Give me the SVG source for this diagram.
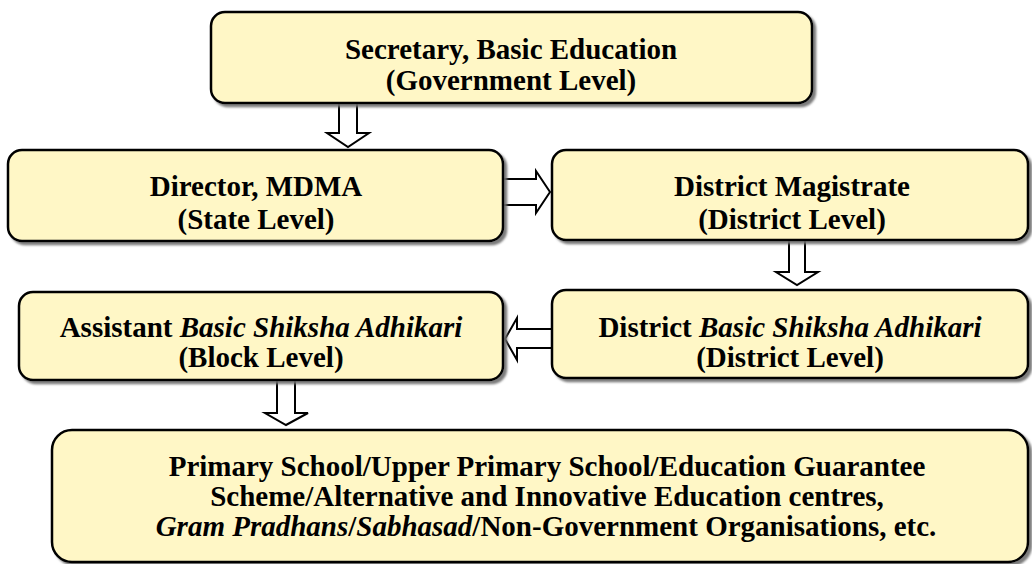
<svg xmlns="http://www.w3.org/2000/svg" width="1032" height="564" viewBox="0 0 1032 564">
<defs>
<filter id="sh" x="-5%" y="-5%" width="110%" height="120%">
<feDropShadow dx="3" dy="3" stdDeviation="1.2" flood-color="#6e6e6e" flood-opacity="0.9"/>
</filter>
<style>
.box{fill:#FFF7C6;stroke:#000;stroke-width:2.5;filter:url(#sh)}
.t{font-size:29px;font-weight:bold;fill:#000;text-anchor:middle}
.i{font-style:italic}
.arr{fill:#fff;stroke:#000;stroke-width:2;stroke-linejoin:miter}
</style>
</defs>
<rect width="1032" height="564" fill="#fff"/>
<g id="connectors">
<polygon class="arr" points="339,103 357,103 357,133 369,133 348,147 327,133 339,133"/>
<polygon class="arr" points="503,179 536,179 536,171 550,192 536,213 536,205 503,205"/>
<polygon class="arr" points="789,240 805,240 805,272 818,272 797,285 776,272 789,272"/>
<polygon class="arr" points="552,329 517,329 517,318 505,339 517,360 517,348 552,348"/>
<polygon class="arr" points="277,380 295,380 295,413 308,413 286,425 265,413 277,413"/>
</g>
<g font-family="Liberation Serif, Times New Roman, DejaVu Serif, serif">
<g id="secretary">
<rect class="box" x="211" y="12" width="601" height="91" rx="14"/>
<text class="t" x="511" y="59">Secretary, Basic Education</text>
<text class="t" x="511" y="90">(Government Level)</text>
</g>
<g id="director">
<rect class="box" x="8" y="150" width="495" height="91" rx="14"/>
<text class="t" x="256" y="196">Director, MDMA</text>
<text class="t" x="256" y="229">(State Level)</text>
</g>
<g id="magistrate">
<rect class="box" x="552" y="150" width="476" height="90" rx="14"/>
<text class="t" x="792" y="196">District Magistrate</text>
<text class="t" x="792" y="229">(District Level)</text>
</g>
<g id="dbsa">
<rect class="box" x="552" y="290" width="476" height="88" rx="14"/>
<text class="t" x="790" y="337">District <tspan class="i">Basic Shiksha Adhikari</tspan></text>
<text class="t" x="790" y="367">(District Level)</text>
</g>
<g id="absa">
<rect class="box" x="19" y="292" width="484" height="88" rx="14"/>
<text class="t" x="261" y="337">Assistant <tspan class="i">Basic Shiksha Adhikari</tspan></text>
<text class="t" x="261" y="367">(Block Level)</text>
</g>
<g id="schools">
<rect class="box" x="52" y="430" width="976" height="132" rx="20"/>
<text class="t" x="547" y="476">Primary School/Upper Primary School/Education Guarantee</text>
<text class="t" x="547" y="506">Scheme/Alternative and Innovative Education centres,</text>
<text class="t" x="546" y="536"><tspan class="i">Gram Pradhans</tspan>/<tspan class="i">Sabhasad</tspan>/Non-Government Organisations, etc.</text>
</g>
</g>
</svg>
